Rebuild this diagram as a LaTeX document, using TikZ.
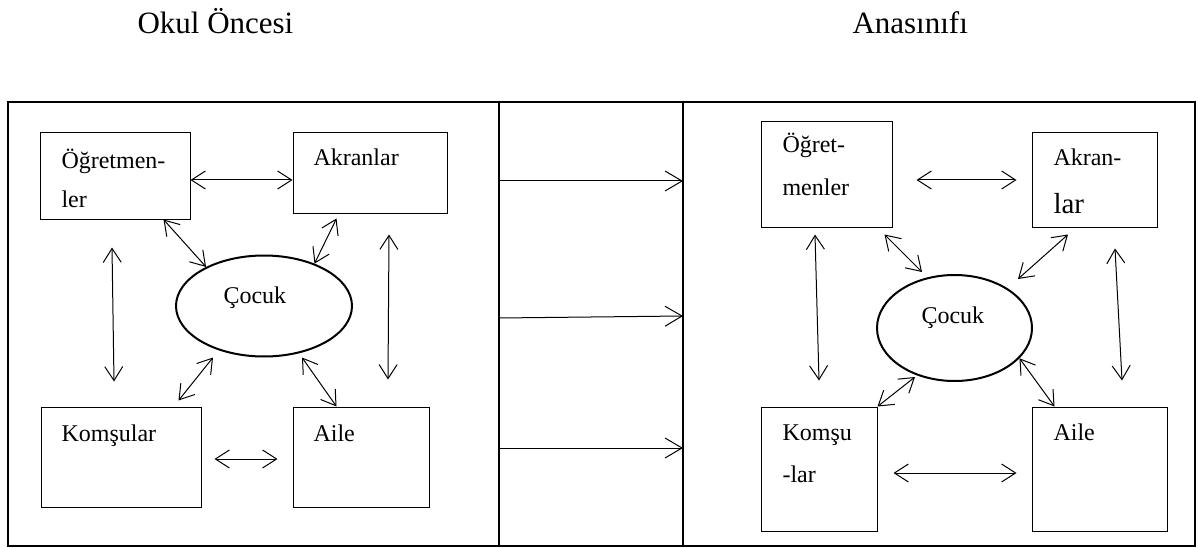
\documentclass[tikz,border=0pt]{standalone}
\usepackage{fontspec}
\setmainfont{Liberation Serif}
\usepackage{tikz}
\usetikzlibrary{arrows.meta,shapes.geometric}

\begin{document}
\begin{tikzpicture}[x=1pt,y=-1pt,line width=1pt,
   >={Straight Barb[length=14pt,width=18pt]},
   box/.style={draw,rectangle,inner sep=0pt},
   oval/.style={draw,ellipse,inner sep=0pt,line width=2pt},
   lbl/.style={anchor=base west,inner sep=0pt,font=\fontsize{24}{29}\selectfont},
   ttl/.style={anchor=base west,inner sep=0pt,font=\fontsize{31}{37}\selectfont}]
   \useasboundingbox (0,0) rectangle (1198,548);
   % Titles
   \node[ttl] (ttlL) at (137,34) {Okul Öncesi};
   \node[ttl] (ttlR) at (852,34) {Anasınıfı};
   % Frame
   \draw[line width=2pt] (8,102) rectangle (1195,546);
   \draw[line width=1.3pt] (499,102) -- (499,546);
   \draw[line width=1.3pt] (683,102) -- (683,546);
   % Left boxes
   \node[box,minimum width=150pt,minimum height=86pt] (ogrL) at (115,176) {};
   \node[box,minimum width=154pt,minimum height=80pt] (akrL) at (370,173) {};
   \node[box,minimum width=160pt,minimum height=100pt] (komL) at (121,457) {};
   \node[box,minimum width=136pt,minimum height=100pt] (aileL) at (361,457) {};
   \node[oval,minimum width=176pt,minimum height=101pt] (cocL) at (264,306) {};
   \node[lbl] (ogrLa) at (61,168) {Öğretmen-};
   \node[lbl] (ogrLb) at (61,207) {ler};
   \node[lbl] (akrLa) at (313,166) {Akranlar};
   \node[lbl] (cocLa) at (223,303) {Çocuk};
   \node[lbl] (komLa) at (61,441) {Komşular};
   \node[lbl] (aileLa) at (313,441) {Aile};
   % Left arrows
   \draw[<->] ([yshift=-4pt]ogrL.east) -- ([yshift=-4pt]ogrL.east -| akrL.west);
   \draw[<->] ([xshift=-27pt]ogrL.south east) -- (cocL.146);
   \draw[<->] ([xshift=44pt,yshift=-5pt]akrL.south west) -- (cocL.40);
   \draw[<->] ([xshift=-3pt,yshift=-28pt]ogrL.south) -- ([xshift=-7pt,yshift=25pt]komL.north);
   \draw[<->] ([xshift=19pt,yshift=-21pt]akrL.south) -- ([xshift=27pt,yshift=27pt]aileL.north);
   \draw[<->] ([xshift=-51pt]cocL.south) -- ([xshift=-23pt,yshift=6pt]komL.north east);
   \draw[<->] ([xshift=38pt]cocL.south) -- ([xshift=44pt]aileL.north west);
   \draw[<->] ([xshift=13pt,yshift=-2pt]komL.east) -- ([xshift=-15pt,yshift=-2pt]aileL.west);
   % Middle arrows
   \coordinate (m1a) at (499,181);
   \coordinate (m1b) at (683,181);
   \coordinate (m2a) at (499,318);
   \coordinate (m2b) at (683,316);
   \coordinate (m3a) at (499,448);
   \coordinate (m3b) at (683,448);
   \foreach \i in {1,2,3}
      \draw[->,>={Straight Barb[length=17pt,width=20pt]}] (m\i a) -- (m\i b);
   % Right boxes
   \node[box,minimum width=131pt,minimum height=105pt] (ogrR) at (826.5,174.5) {};
   \node[box,minimum width=125pt,minimum height=94pt] (akrR) at (1094.5,180) {};
   \node[box,minimum width=116pt,minimum height=124pt] (komR) at (819,469) {};
   \node[box,minimum width=135pt,minimum height=124pt] (aileR) at (1099.5,469) {};
   \node[oval,minimum width=155pt,minimum height=106pt] (cocR) at (954.5,328) {};
   \node[lbl] (ogrRa) at (782,153) {Öğret-};
   \node[lbl] (ogrRb) at (782,195) {menler};
   \node[lbl] (akrRa) at (1053,166) {Akran-};
   \node[lbl,font=\fontsize{29}{34}\selectfont] (akrRb) at (1053,213) {lar};
   \node[lbl] (cocRa) at (921,323) {Çocuk};
   \node[lbl] (komRa) at (782,440) {Komşu};
   \node[lbl] (komRb) at (782,482) {-lar};
   \node[lbl] (aileRa) at (1053,440) {Aile};
   % Right arrows
   \draw[<->] ([xshift=24pt,yshift=-5.5pt]ogrR.east) -- ([xshift=-15pt]akrR.west);
   \draw[<->] ([xshift=-8pt,yshift=-7pt]ogrR.south east) -- ([xshift=-32.5pt,yshift=2pt]cocR.north);
   \draw[<->] ([xshift=-26.5pt,yshift=-7pt]akrR.south) -- ([xshift=63.5pt,yshift=-5pt]cocR.north);
   \draw[<->] ([xshift=-11.5pt,yshift=-7pt]ogrR.south) -- ([yshift=26pt]komR.north);
   \draw[<->] ([xshift=20.5pt,yshift=-21pt]akrR.south) -- ([xshift=22.5pt,yshift=26pt]aileR.north);
   \draw[<->] ([xshift=-39.5pt,yshift=5pt]cocR.south) -- (komR.north east);
   \draw[<->] (cocR.-25) -- ([xshift=23pt]aileR.north west);
   \draw[<->] ([xshift=16pt,yshift=-4pt]komR.east) -- ([xshift=-15pt,yshift=-4pt]aileR.west);
\end{tikzpicture}
\end{document}
